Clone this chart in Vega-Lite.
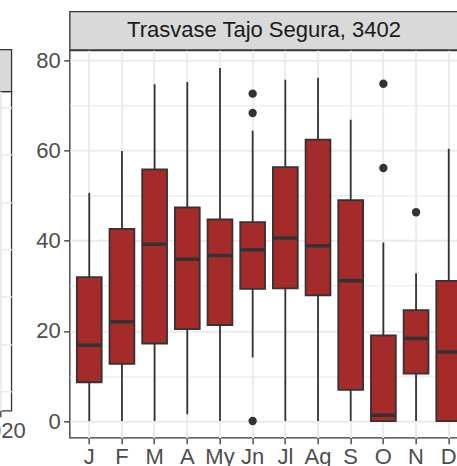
{
  "$schema": "https://vega.github.io/schema/vega-lite/v6.json",
  "padding": {"left": -49.65, "top": 10.35, "right": 0, "bottom": 0},
  "bounds": "flush",
  "spacing": 118.3,
  "config": {
    "font": "Liberation Sans",
    "view": {"stroke": "#333333", "strokeWidth": 1.3},
    "axis": {
      "labelFont": "Liberation Sans",
      "labelFontSize": 22,
      "labelColor": "#4D4D4D",
      "tickColor": "#333333",
      "tickSize": 6,
      "tickWidth": 1.3,
      "domain": false,
      "gridColor": "#EBEBEB",
      "gridWidth": 2,
      "labelPadding": 3.5,
      "title": null
    }
  },
  "datasets": {
    "boxes": [
      {"month": "J", "lower": 0, "q1": 8.6, "median": 16.8, "q3": 31.9, "upper": 50.6},
      {"month": "F", "lower": 0, "q1": 12.7, "median": 22.0, "q3": 42.6, "upper": 59.9},
      {"month": "M", "lower": 0, "q1": 17.2, "median": 39.2, "q3": 55.8, "upper": 74.7},
      {"month": "A", "lower": 1.5, "q1": 20.4, "median": 35.9, "q3": 47.4, "upper": 75.2},
      {"month": "My", "lower": 0, "q1": 21.3, "median": 36.7, "q3": 44.7, "upper": 78.3},
      {"month": "Jn", "lower": 14.1, "q1": 29.3, "median": 38.0, "q3": 44.1, "upper": 64.4},
      {"month": "Jl", "lower": 0, "q1": 29.4, "median": 40.6, "q3": 56.3, "upper": 75.7},
      {"month": "Ag", "lower": 0, "q1": 27.9, "median": 38.9, "q3": 62.4, "upper": 76.1},
      {"month": "S", "lower": 0, "q1": 6.9, "median": 31.1, "q3": 49.0, "upper": 66.8},
      {"month": "O", "lower": 0, "q1": 0, "median": 1.3, "q3": 19.0, "upper": 39.6},
      {"month": "N", "lower": 0, "q1": 10.5, "median": 18.3, "q3": 24.6, "upper": 32.8},
      {"month": "D", "lower": 0, "q1": 0, "median": 15.3, "q3": 31.1, "upper": 60.4}
    ],
    "outliers": [
      {"month": "Jn", "value": 72.6},
      {"month": "Jn", "value": 68.3},
      {"month": "Jn", "value": 0},
      {"month": "O", "value": 74.8},
      {"month": "O", "value": 56.1},
      {"month": "N", "value": 46.3}
    ]
  },
  "hconcat": [
    {
      "spacing": 0,
      "bounds": "flush",
      "vconcat": [
        {
          "width": 60, "height": 37.3,
          "view": {"stroke": null},
          "data": {"values": [{"t": ""}]},
          "mark": {"type": "text"},
          "encoding": {"text": {"field": "t"}}
        },
        {
          "width": 60, "height": 42,
          "view": {"fill": "#D9D9D9", "stroke": "#333333", "strokeWidth": 1.3},
          "data": {"values": [{"t": ""}]},
          "mark": {"type": "text"},
          "encoding": {"text": {"field": "t"}}
        },
        {
          "width": 60, "height": 319.3,
          "data": {"values": []},
          "mark": {"type": "point"},
          "encoding": {
            "x": {"field": "year", "type": "quantitative",
                  "scale": {"domain": [2016, 2020.85], "nice": false, "zero": false},
                  "axis": {"values": [2020], "format": "d", "grid": true, "labelFlush": false}},
            "y": {"field": "v", "type": "quantitative",
                  "scale": {"domain": [-0.408, 6.342], "nice": false, "zero": false},
                  "axis": {"values": [0, 1, 2, 3, 4, 5, 6], "labels": false, "ticks": false, "gridWidth": 1.5}}
          }
        }
      ]
    },
    {
      "spacing": 0,
      "bounds": "flush",
      "vconcat": [
        {
          "width": 398.7, "height": 38.3,
          "view": {"fill": "#D9D9D9", "stroke": "#333333", "strokeWidth": 1.3},
          "data": {"values": [{"label": "Trasvase Tajo Segura, 3402"}]},
          "mark": {"type": "text", "fontSize": 22, "color": "#1A1A1A", "dx": -5, "font": "Liberation Sans"},
          "encoding": {"text": {"field": "label"}}
        },
        {
          "width": 398.7, "height": 387.4,
          "layer": [
            {
              "data": {"name": "boxes"},
              "mark": {"type": "rule", "color": "#333333", "strokeWidth": 1.8},
              "encoding": {
                "x": {"field": "month", "type": "nominal",
                      "sort": ["J", "F", "M", "A", "My", "Jn", "Jl", "Ag", "S", "O", "N", "D"],
                      "scale": {"paddingInner": 0.24, "paddingOuter": 0.22},
                      "axis": {"labelAngle": 0, "grid": true, "bandPosition": 0.5, "labelPadding": 3}},
                "y": {"field": "lower", "type": "quantitative",
                      "scale": {"domain": [-3.7, 82.2], "nice": false, "zero": false},
                      "axis": {
                        "values": [0, 10, 20, 30, 40, 50, 60, 70, 80],
                        "labelExpr": "datum.value % 20 === 0 ? datum.label : ''",
                        "tickOpacity": {"condition": {"test": "datum.value % 20 === 0", "value": 1}, "value": 0},
                        "gridWidth": {"condition": {"test": "datum.value % 20 === 0", "value": 2}, "value": 1.2}
                      }},
                "y2": {"field": "upper"}
              }
            },
            {
              "data": {"name": "boxes"},
              "mark": {"type": "bar", "fill": "#A52A2A", "stroke": "#333333", "strokeWidth": 1.8},
              "encoding": {
                "x": {"field": "month", "type": "nominal", "sort": ["J", "F", "M", "A", "My", "Jn", "Jl", "Ag", "S", "O", "N", "D"]},
                "y": {"field": "q1", "type": "quantitative"},
                "y2": {"field": "q3"}
              }
            },
            {
              "data": {"name": "boxes"},
              "mark": {"type": "bar", "fill": null, "stroke": "#333333", "strokeWidth": 3.5},
              "encoding": {
                "x": {"field": "month", "type": "nominal", "sort": ["J", "F", "M", "A", "My", "Jn", "Jl", "Ag", "S", "O", "N", "D"]},
                "y": {"field": "median", "type": "quantitative"},
                "y2": {"field": "median"}
              }
            },
            {
              "data": {"name": "outliers"},
              "mark": {"type": "point", "filled": true, "color": "#333333", "opacity": 1, "size": 70},
              "encoding": {
                "x": {"field": "month", "type": "nominal", "sort": ["J", "F", "M", "A", "My", "Jn", "Jl", "Ag", "S", "O", "N", "D"]},
                "y": {"field": "value", "type": "quantitative"}
              }
            }
          ]
        }
      ]
    }
  ]
}
